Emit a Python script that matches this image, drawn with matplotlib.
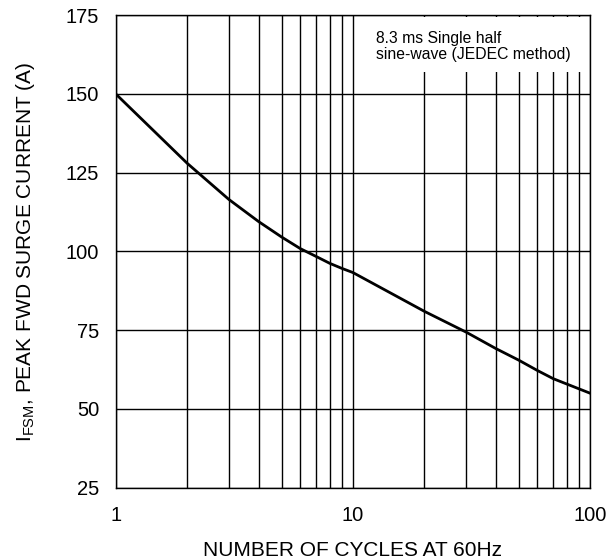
import matplotlib
matplotlib.use('Agg')
import matplotlib.pyplot as plt
from matplotlib.patches import Rectangle
from matplotlib.ticker import FixedLocator, NullFormatter

plt.rcParams['font.family'] = ['Liberation Sans', 'DejaVu Sans']
plt.rcParams['mathtext.fontset'] = 'custom'
plt.rcParams['mathtext.rm'] = 'Liberation Sans'

# curve
cycles = [1, 2, 3, 4, 5, 6, 7, 8, 9, 10, 20, 30, 40, 50, 60, 70, 100]
surge_a = [150, 128, 116.5, 109.5, 104.6, 100.9, 98.4, 96.2, 94.6, 93.3,
           81, 74.4, 69.2, 65.5, 62.2, 59.6, 55]

x_ticks = [1, 10, 100]
x_ticklabels = ['1', '10', '100']
y_ticks = [25, 50, 75, 100, 125, 150, 175]

fig = plt.figure(figsize=(6.09, 5.6), dpi=100)
ax = fig.add_axes([0.190, 0.129, 0.779, 0.844])

ax.set_xscale('log')
ax.set_xlim(1, 100)
ax.set_ylim(25, 175)

minor = [m * d for d in (1, 10) for m in range(2, 10)]
ax.xaxis.set_major_locator(FixedLocator(x_ticks))
ax.xaxis.set_minor_locator(FixedLocator(minor))
ax.xaxis.set_minor_formatter(NullFormatter())
ax.set_xticklabels(x_ticklabels)
ax.set_yticks(y_ticks)

ax.grid(True, which='both', axis='x', color='black', lw=1.0)
ax.grid(True, which='major', axis='y', color='black', lw=1.0)
ax.set_axisbelow(True)
for s in ax.spines.values():
    s.set_linewidth(1.0)

ax.tick_params(which='both', length=0, labelsize=14.5)
ax.tick_params(axis='y', pad=12)
ax.tick_params(axis='x', pad=13)

ax.plot(cycles, surge_a, color='black', lw=2.0, zorder=3)

# note with white box over the grid
ax.add_patch(Rectangle((0.504, 0.879), 0.485, 0.117, transform=ax.transAxes,
                       facecolor='white', edgecolor='none', zorder=2))
ax.text(0.548, 0.967, '8.3 ms Single half\nsine-wave (JEDEC method)',
        transform=ax.transAxes, fontsize=11.3, va='top', ha='left',
        linespacing=1.12, zorder=4)

ax.set_xlabel('NUMBER OF CYCLES AT 60Hz', fontsize=15, labelpad=11.5)
ax.set_ylabel(r'I$_{\mathregular{FSM}}$, PEAK FWD SURGE CURRENT (A)', fontsize=15, labelpad=21)

fig.savefig('out.png', dpi=100)
